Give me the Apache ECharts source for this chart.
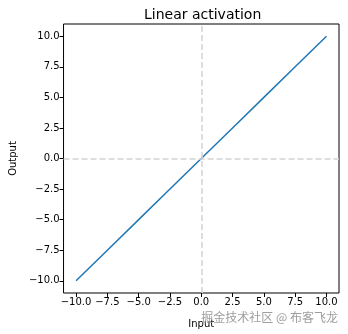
<!DOCTYPE html>
<html>
<head>
<meta charset="utf-8">
<script src="https://cdn.jsdelivr.net/npm/echarts@6/dist/echarts.min.js"></script>
<style>
  html, body { margin: 0; padding: 0; background: #fff; }
  #chart { width: 348px; height: 334px; }
</style>
</head>
<body>
<div id="chart"></div>
<script>
// Linear activation: output equals input
const inputs = [-10, -7.5, -5, -2.5, 0, 2.5, 5, 7.5, 10];
const outputs = [-10, -7.5, -5, -2.5, 0, 2.5, 5, 7.5, 10];
const xTicks = [-10, -7.5, -5, -2.5, 0, 2.5, 5, 7.5, 10];
const yTicks = [-10, -7.5, -5, -2.5, 0, 2.5, 5, 7.5, 10];

const FONT = 'DejaVu Sans';
const fmt = v => v.toFixed(1).replace('-', '\u2212');

const chart = echarts.init(document.getElementById('chart'), null, { renderer: 'canvas' });

chart.setOption({
  animation: false,
  backgroundColor: '#fff',
  title: {
    text: 'Linear activation',
    left: 139, top: 3,
    textStyle: { fontFamily: FONT, fontSize: 14, fontWeight: 'normal', color: '#000' }
  },
  grid: {
    left: 59, top: 24, width: 280, height: 272,
    show: true, borderColor: '#000', borderWidth: 1, backgroundColor: 'transparent'
  },
  xAxis: {
    type: 'value', min: -11, max: 11,
    name: 'Input', nameLocation: 'middle', nameGap: 26,
    nameTextStyle: { fontFamily: FONT, fontSize: 10, color: '#000' },
    axisLine: { show: false, onZero: false },
    splitLine: { show: false },
    axisTick: { show: true, inside: false, length: 4, customValues: xTicks, lineStyle: { color: '#000' } },
    axisLabel: { customValues: xTicks, formatter: fmt, margin: 4,
      fontFamily: FONT, fontSize: 10, color: '#000' }
  },
  yAxis: {
    type: 'value', min: -11, max: 11,
    name: 'Output', nameLocation: 'middle', nameGap: 44,
    nameTextStyle: { fontFamily: FONT, fontSize: 10, color: '#000' },
    axisLine: { show: false, onZero: false },
    splitLine: { show: false },
    axisTick: { show: true, inside: false, length: 4, customValues: yTicks, lineStyle: { color: '#000' } },
    axisLabel: { customValues: yTicks, formatter: fmt, margin: 4,
      fontFamily: FONT, fontSize: 10, color: '#000' }
  },
  series: [
    {
      type: 'line', z: 1,
      data: [],
      markLine: {
        silent: true, symbol: 'none', label: { show: false },
        lineStyle: { color: '#d3d3d3', type: [6, 3], width: 1.5 },
        data: [{ xAxis: 0 }, { yAxis: 0 }]
      }
    },
    {
      type: 'line', z: 2,
      data: inputs.map((x, i) => [x, outputs[i]]),
      showSymbol: false, symbol: 'none',
      lineStyle: { color: '#1f77b4', width: 1.5 }
    }
  ],
  graphic: [{
    type: 'text', right: 10, top: 311, z: 100,
    style: {
      text: '掘金技术社区 @ 布客飞龙',
      font: '12px "Noto Sans CJK SC"',
      fill: 'rgba(140,140,140,0.85)'
    }
  }]
});
</script>
</body>
</html>
